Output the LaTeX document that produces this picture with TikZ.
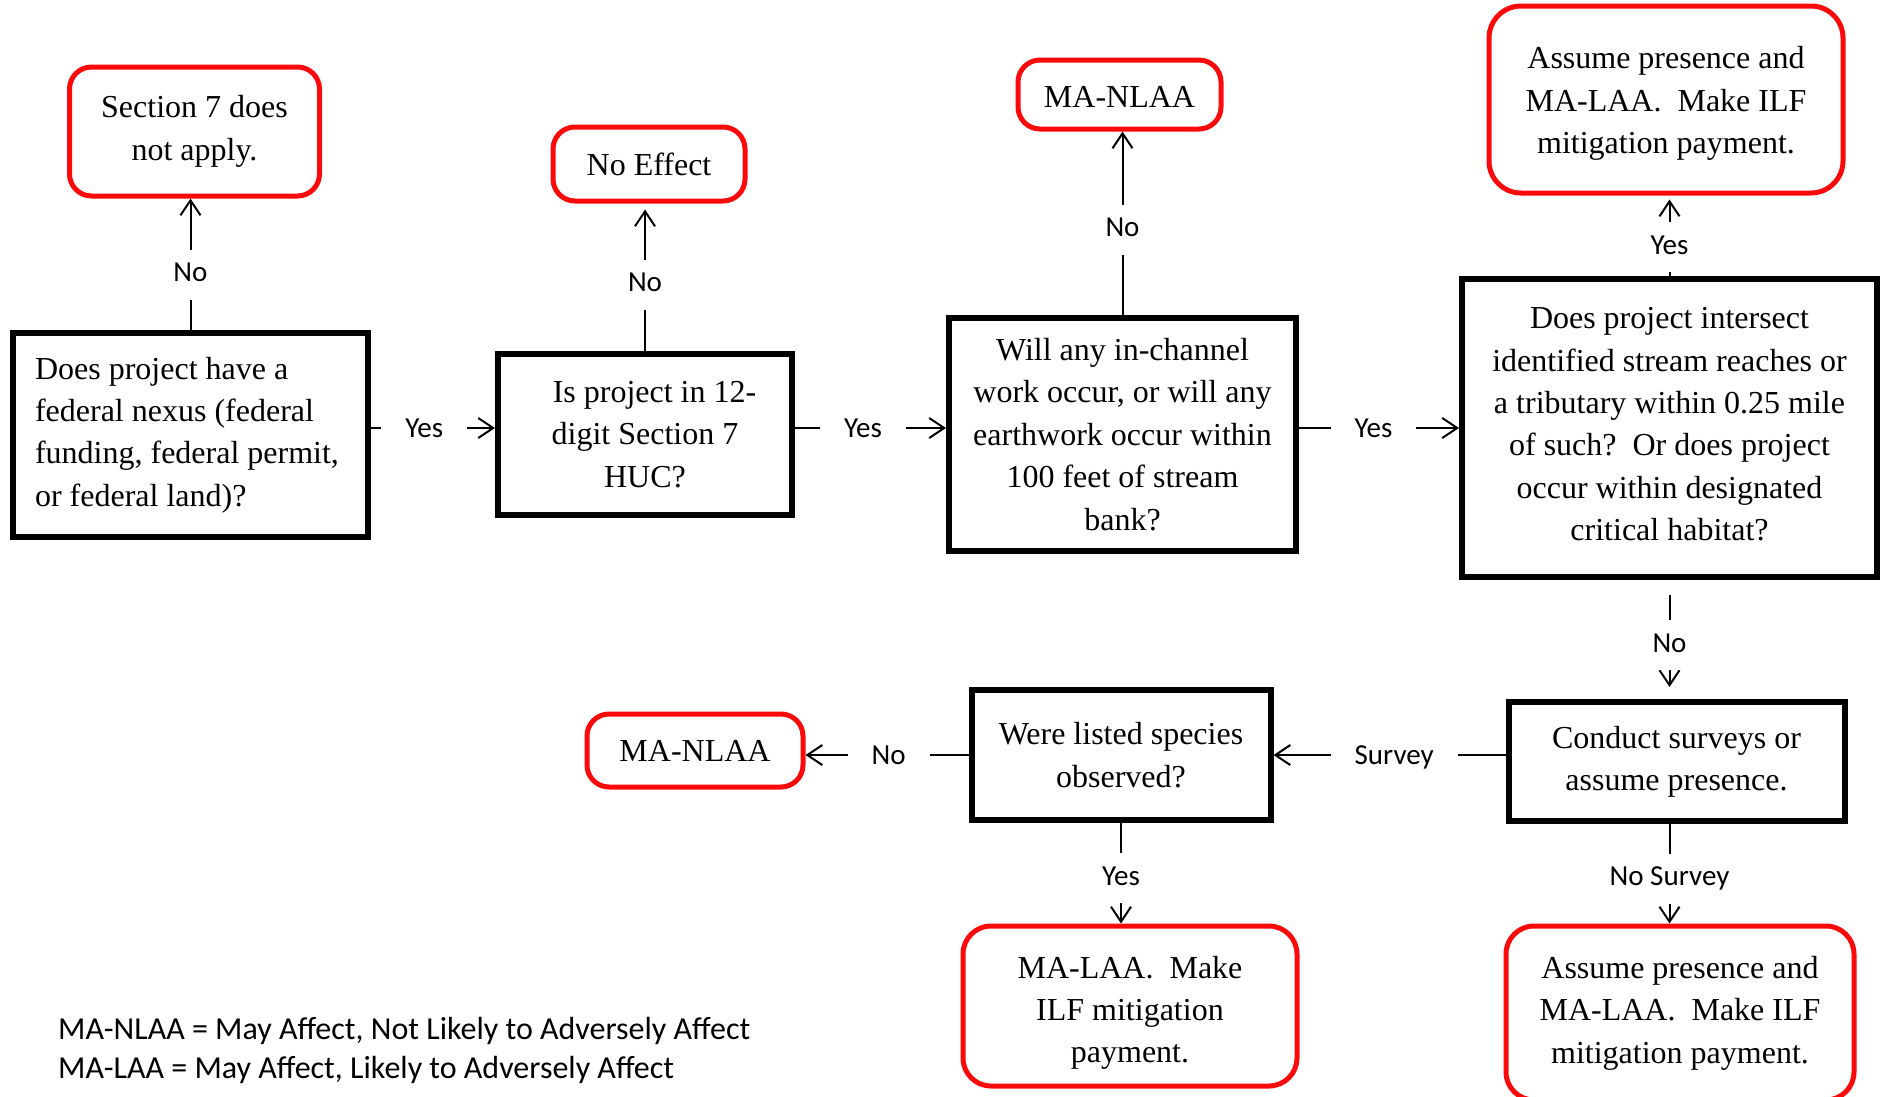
\documentclass[tikz,border=0pt]{standalone}
\usepackage{fontspec}
\setmainfont{Liberation Serif}
\newfontfamily\lblfont{Carlito}
\usetikzlibrary{arrows.meta,calc}
\definecolor{boxred}{RGB}{250,10,10}
\begin{document}
\begin{tikzpicture}[x=1pt,y=-1pt,
  qbox/.style={draw=black, line width=6pt, align=center, inner sep=0pt,
    font=\fontsize{32}{42.4}\selectfont},
  rbox/.style={draw=boxred, line width=5pt, rounded corners=22pt, align=center, inner sep=0pt,
    font=\fontsize{32}{42.4}\selectfont},
  conn/.style={line width=2pt},
  arr/.style={conn, -{Straight Barb[length=15pt,width=20pt]}},
  lbl/.style={fill=white, font=\lblfont\fontsize{29}{34}\selectfont, inner xsep=24pt,
    inner ysep=12pt, text height=20pt, text depth=6pt},
  hlbl/.style={lbl, yshift=-2.5pt},
  legend/.style={anchor=base west, inner sep=0pt, font=\lblfont\fontsize{32}{38}\selectfont}
]
\useasboundingbox (0,0) rectangle (1885,1096);

% question boxes
\node[qbox, align=left, minimum width=355pt, minimum height=204pt] (b1) at (190.5,435)
  {Does project have a\\federal nexus (federal\\funding, federal permit,\rule{7pt}{0pt}\\or federal land)?};
\node[qbox, minimum width=294pt, minimum height=161pt] (b2) at (645,434.5)
  {\hspace*{19pt}Is project in 12-\\digit Section 7\\HUC?};
\node[qbox, minimum width=347pt, minimum height=233pt] (b3) at (1122.5,434.5)
  {Will any in-channel\\work occur, or will any\\earthwork occur within\\100 feet of stream\\bank?};
\node[qbox, minimum width=415pt, minimum height=298pt] (b4) at (1669.5,428)
  {Does project intersect\\identified stream reaches or\\a tributary within 0.25 mile\\of such?\ \ Or does project\\occur within designated\\critical habitat?\rule[-8pt]{0pt}{8pt}};
\node[qbox, minimum width=336pt, minimum height=119pt] (cs) at (1676.5,761.5)
  {Conduct surveys or\\assume presence.};
\node[qbox, minimum width=299pt, minimum height=130pt] (ws) at (1121,755)
  {Were listed species\\observed?};

% outcome boxes
\node[rbox, minimum width=250pt, minimum height=129pt] (s7) at (194.5,131.5)
  {Section 7 does\\not apply.};
\node[rbox, minimum width=192pt, minimum height=74pt] (ne) at (649,164) {No Effect};
\node[rbox, minimum width=203pt, minimum height=69pt] (mt) at (1119.5,94.5) {\rule{0pt}{26pt}MA-NLAA};
\node[rbox, rounded corners=32pt, minimum width=354pt, minimum height=187pt] (at) at (1666,99.5)
  {\rule{0pt}{30pt}Assume presence and\\MA-LAA.\ \ Make ILF\\mitigation payment.};
\node[rbox, minimum width=216pt, minimum height=73pt] (mb) at (695,750.5) {MA-NLAA};
\node[rbox, rounded corners=28pt, minimum width=334pt, minimum height=160pt] (ml) at (1130,1006)
  {\rule{0pt}{36pt}MA-LAA.\ \ Make\\ILF mitigation\\payment.};
\node[rbox, rounded corners=28pt, minimum width=348pt, minimum height=174pt] (ab) at (1680,1013)
  {Assume presence and\\MA-LAA.\ \ Make ILF\\mitigation payment.};

% connectors
\draw[arr] (b1.north) -- node[lbl, pos=0.42]{No} (s7.south -| b1.north);
\draw[arr, shorten >=6pt] (b2.north) -- node[lbl, pos=0.45]{No} (ne.south -| b2.north);
\draw[arr] (b3.north) -- node[lbl, pos=0.465]{No} (mt.south -| b3.north);
\draw[arr, shorten >=4pt] (b4.north) -- node[lbl, pos=0.36]{Yes} (at.south -| b4.north);

\draw[arr] (b1.east |- b4.west) -- node[hlbl, pos=0.43]{Yes} (b2.west |- b4.west);
\draw[arr] (b2.east |- b4.west) -- node[hlbl, pos=0.45]{Yes} (b3.west |- b4.west);
\draw[arr] (b3.east |- b4.west) -- node[hlbl, pos=0.465]{Yes} (b4.west);

\draw[arr, shorten <=15pt, shorten >=12pt] (b4.south) -- node[lbl, pos=0.55]{No} (b4.south |- cs.north);
\draw[arr] (cs.west |- ws.east) -- node[hlbl, pos=0.48]{Survey} (ws.east);
\draw[arr] (ws.west) -- node[hlbl, pos=0.49]{No} (mb.east |- ws.west);
\draw[arr] (ws.south) -- node[lbl, pos=0.55]{Yes} (ws.south |- ml.north);
\draw[arr] (b4.south |- cs.south) -- node[lbl, pos=0.55]{No Survey} (b4.south |- ab.north);

% legend
\node[legend] (leg1) at (58,1039) {MA-NLAA = May Affect, Not Likely to Adversely Affect};
\node[legend] (leg2) at (58,1078) {MA-LAA = May Affect, Likely to Adversely Affect};
\end{tikzpicture}
\end{document}
